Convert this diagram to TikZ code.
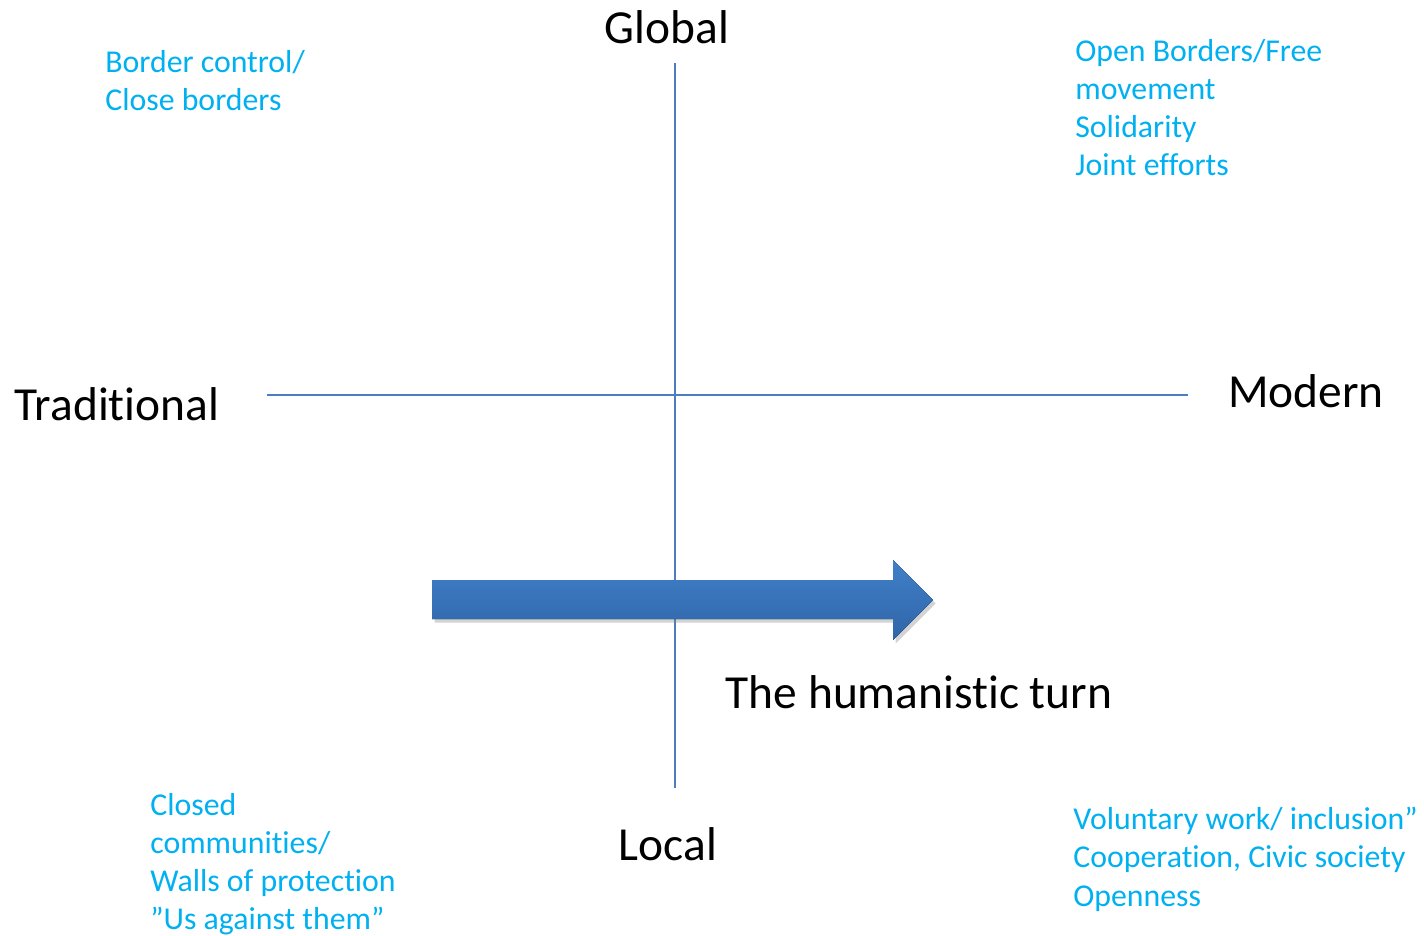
\documentclass[tikz,border=0pt]{standalone}
\usepackage{fontspec}
\setmainfont{Carlito}[RawFeature={-liga;-clig;-calt;-dlig}]
\usetikzlibrary{shadows}
\definecolor{axisblue}{RGB}{74,126,193}
\definecolor{notecyan}{RGB}{0,176,240}
\definecolor{arrowtop}{RGB}{64,128,200}
\definecolor{arrowbottom}{RGB}{48,100,168}

\tikzset{
    axislabel/.style={font=\fontsize{27}{32}\selectfont, text=black, inner sep=0pt},
    note/.style={font=\fontsize{18.1}{21.7}\selectfont, text=notecyan, align=left, anchor=north west, inner sep=0pt}
}

\begin{document}
\begin{tikzpicture}[x=0.02cm, y=-0.02cm]
    \useasboundingbox (0,0) rectangle (1424,936);

    % axes
    \coordinate (top) at (675,63);
    \coordinate (bottom) at (675,788);
    \coordinate (left) at (267,395);
    \coordinate (right) at (1188,395);
    \draw[axisblue, line width=1pt] (top) -- (bottom);
    \draw[axisblue, line width=1pt] (left) -- (right);

    \node[axislabel] (global) at (667,27) {Global};
    \node[axislabel] (local) at (668,844) {Local};
    \node[axislabel] (traditional) at (117,404) {Traditional};
    \node[axislabel] (modern) at (1306,391) {Modern};

    % the turn
    \fill[top color=arrowtop, bottom color=arrowbottom, drop shadow={opacity=0.35, shadow xshift=1.5pt, shadow yshift=-2pt}]
        (432,580) -- (893,580) -- (893,560) -- (933,600) -- (893,640) -- (893,619) -- (432,619) -- cycle;
    \node[axislabel] (turn) at (919,692) {The humanistic turn};

    % quadrant notes
    \node[note] (tl) at (105,50) {Border control/\\Close borders};
    \node[note] (tr) at (1075,39) {Open Borders/Free\\movement\\Solidarity\\Joint efforts};
    \node[note] (bl) at (150,793) {Closed\\communities/\\Walls of protection\\”Us against them”};
    \node[note] (br) at (1073,807) {Voluntary work/ inclusion”\\Cooperation, Civic society\\Openness};
\end{tikzpicture}
\end{document}
